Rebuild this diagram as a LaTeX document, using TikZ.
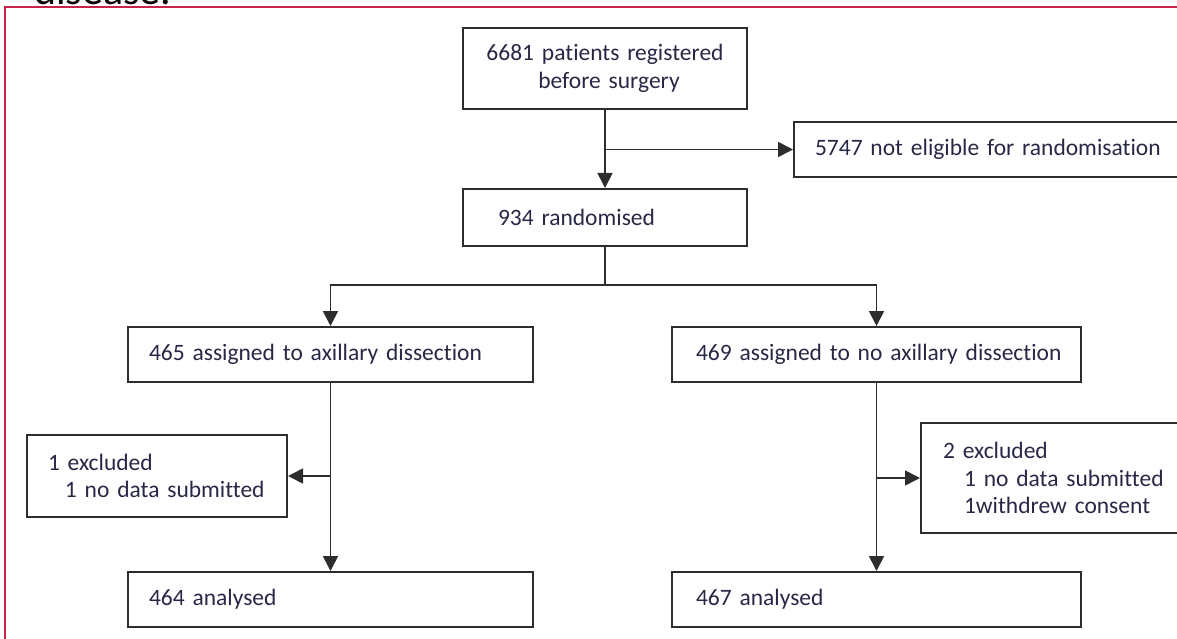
\documentclass[tikz,border=0pt]{standalone}
\usepackage{fontspec}
\setmainfont{Carlito}[Ligatures=NoCommon, WordSpace=0.75]
\usetikzlibrary{arrows.meta}
\usetikzlibrary{positioning}

\definecolor{framered}{RGB}{200,35,75}
\definecolor{boxline}{RGB}{45,45,45}
\definecolor{boxtext}{RGB}{40,40,70}

\tikzset {
  flow path/.style = {
    draw = boxline,
    line width = 1.7pt
  },
  % path style with an arrow at its end
  arr/.style = {
    flow path,
    -{Triangle[width=15pt,length=15pt]}
  },
  % path style with no arrows
  narr/.style = {
    flow path
  }
}
\tikzset {
  flow node/.style = {
    draw = boxline,
    line width = 2pt,
    rectangle,
    inner sep = 0pt,
    text = boxtext,
    font = \fontsize{23.5}{27.5}\selectfont
  },
  % text set from the left edge of the box (indent given in the text)
  lbox/.style = {
    flow node,
    align = left,
    text width = #1
  },
  % text centred in the box
  cbox/.style = {
    flow node,
    align = center,
    text width = #1
  }
}
\newcommand{\inset}[1]{\hspace*{#1pt}}

\begin{document}
\begin{tikzpicture}[x=1pt, y=-1pt]
  \useasboundingbox (0,0) rectangle (1177,639);
  \node[anchor=base west, inner sep=0pt, font=\fontsize{42}{42}\selectfont] (caption) at (34,5) {disease.};
  \draw[framered, line width=2pt] (5,7) rectangle (1230,700);

  \node[cbox=284pt, minimum height=81pt] (registered) at (605,68.5) {6681 patients registered\\\inset{8}before surgery};
  \node[lbox=407pt, minimum height=55pt] (noteligible) at (997.5,149.5) {\inset{21}5747 not eligible for randomisation};
  \node[lbox=284pt, minimum height=57pt] (randomised) at (605,217.5) {\inset{35}934 randomised};

  \node[lbox=405pt, minimum height=55pt] (dissection) at (330.5,354.5) {\inset{21}465 assigned to axillary dissection};
  \node[lbox=409pt, minimum height=55pt] (nodissection) at (876.5,354.5) {\inset{24}469 assigned to no axillary dissection};

  \node[lbox=260pt, minimum height=82pt] (excludedl) at (157,476) {\inset{21}1 excluded\\\inset{38}1 no data submitted};
  \node[lbox=299pt, minimum height=110pt] (excludedr) at (1070.5,478) {\inset{22}2 excluded\\\inset{43}1 no data submitted\\\inset{43}1withdrew consent};

  \node[lbox=405pt, minimum height=55pt] (analysedl) at (330.5,599.5) {\inset{21}464 analysed};
  \node[lbox=409pt, minimum height=55pt] (analysedr) at (876.5,599.5) {\inset{24}467 analysed};

  \coordinate (split) at (605,285);

  \draw[arr] (registered) -- (randomised);
  \draw[arr] (registered.south |- noteligible.west) -- (noteligible.west);
  \draw[narr] (randomised) -- (split);
  \draw[arr] (split) -| (dissection);
  \draw[arr] (split) -| (nodissection);
  \draw[arr] (dissection) -- (analysedl);
  \draw[arr] (dissection.south |- excludedl.east) -- (excludedl.east);
  \draw[arr] (nodissection) -- (analysedr);
  \draw[arr] (nodissection.south |- excludedr.west) -- (excludedr.west);
\end{tikzpicture}
\end{document}
